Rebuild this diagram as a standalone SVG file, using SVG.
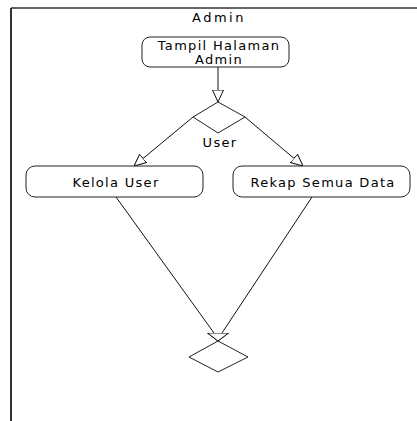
<svg xmlns="http://www.w3.org/2000/svg" width="417" height="421" viewBox="0 0 417 421">
  <style>
    .frame { stroke: #333; fill: none; }
    .node rect { fill: #fff; stroke: #222; stroke-width: 1; }
    .decision { fill: #fff; stroke: #222; stroke-width: 1; }
    .flow { fill: none; stroke: #111; stroke-width: 1; }
    text { font-family: "DejaVu Sans", "Liberation Sans", sans-serif; font-size: 13px; fill: #000; letter-spacing: 1.3px; text-anchor: middle; }
  </style>
  <defs>
    <marker id="open" markerUnits="userSpaceOnUse" viewBox="0 0 12 12" refX="12" refY="6" markerWidth="12" markerHeight="12" orient="auto">
      <path d="M0,0.5 L12,6 L0,11.5 Z" fill="#fff" stroke="#111" stroke-width="1"/>
    </marker>
    <marker id="openWide" markerUnits="userSpaceOnUse" viewBox="0 0 9 22" refX="8.5" refY="11" markerWidth="9" markerHeight="22" orient="auto">
      <path d="M0.5,0.5 L8.5,11 L0.5,21.5 Z" fill="#fff" stroke="#111" stroke-width="1"/>
    </marker>
  </defs>

  <rect width="417" height="421" fill="#fff"/>

  <!-- swimlane frame -->
  <g id="lane">
    <line class="frame" x1="11" y1="8" x2="417" y2="8" stroke="#666" stroke-width="1.5"/>
    <line class="frame" x1="11" y1="8" x2="11" y2="421" stroke-width="2"/>
    <text x="219" y="22" style="letter-spacing:2.5px">Admin</text>
  </g>

  <!-- connectors -->
  <g id="connectors">
    <path class="flow" d="M218,67 L218,102" marker-end="url(#open)"/>
    <path class="flow" d="M193,117 L134,166" marker-end="url(#open)"/>
    <path class="flow" d="M245,117 L303,166" marker-end="url(#open)"/>
    <path class="flow" d="M116,197 L214,333 M218,333 L218,341" marker-end="url(#openWide)"/>
    <path class="flow" d="M312,197 L222,333 M218,333 L218,341" marker-end="url(#openWide)"/>
  </g>

  <g id="tampil-halaman-admin" class="node">
    <rect x="142" y="37" width="147" height="30" rx="8"/>
    <text x="219" y="50">Tampil Halaman</text>
    <text x="219" y="64">Admin</text>
  </g>

  <g id="decision-user">
    <polygon class="decision" points="218,102 245,117 218,133 193,117"/>
    <text x="220" y="147">User</text>
  </g>

  <g id="kelola-user" class="node">
    <rect x="26" y="166" width="177" height="31" rx="9"/>
    <text x="116" y="187">Kelola User</text>
  </g>

  <g id="rekap-semua-data" class="node">
    <rect x="233" y="166" width="177" height="31" rx="9"/>
    <text x="323" y="187">Rekap Semua Data</text>
  </g>

  <g id="merge">
    <polygon class="decision" points="218,341 248,357 218,372 189,357"/>
  </g>
</svg>
